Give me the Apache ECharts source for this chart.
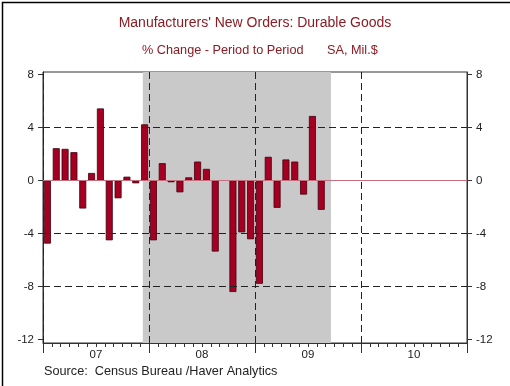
<!DOCTYPE html>
<html>
<head>
<meta charset="utf-8">
<script src="https://cdn.jsdelivr.net/npm/echarts@6/dist/echarts.min.js"></script>
<style>
html,body{margin:0;padding:0;background:#fff;}
#chart{width:510px;height:386px;}
</style>
</head>
<body>
<div id="chart"></div>
<script>
// Months Jan 2007 .. Aug 2009
const months = [
  'Jan 07','Feb 07','Mar 07','Apr 07','May 07','Jun 07','Jul 07','Aug 07','Sep 07','Oct 07','Nov 07','Dec 07',
  'Jan 08','Feb 08','Mar 08','Apr 08','May 08','Jun 08','Jul 08','Aug 08','Sep 08','Oct 08','Nov 08','Dec 08',
  'Jan 09','Feb 09','Mar 09','Apr 09','May 09','Jun 09','Jul 09','Aug 09'
];
const values = [
  -4.75, 2.45, 2.4, 2.15, -2.1, 0.58, 5.45, -4.5, -1.33, 0.3, -0.2, 4.25,
  -4.5, 1.32, -0.12, -0.88, 0.25, 1.44, 0.89, -5.35, null, -8.4, -3.9, -4.42,
  -7.78, 1.8, -2.05, 1.6, 1.44, -1.05, 4.88, -2.2
];
const yearLabels = ['07', '08', '09', '10'];
const yearMid = [6, 18, 30, 42];          // month index of label centre
const yearBoundaries = [0, 12, 24, 36];   // dashed vertical lines
const yearTicks = [0, 12, 24, 36, 48];
const yTicks = [-12, -8, -4, 0, 4, 8];
const dashedY = [4, -4, -8];
const zeroLine = [0];
const recession = [11.3, 32.6];           // shaded period, in months from Jan 07

const chart = echarts.init(document.getElementById('chart'), null, {renderer: 'canvas'});
const axisColor = '#333';
const font = 'Liberation Sans, Arial, sans-serif';
const barData = [];
values.forEach((v, i) => { if (v !== null) barData.push([i + 0.5, v]); });

const option = {
  animation: false,
  backgroundColor: '#fff',
  grid: {left: 43, right: 43, top: 72, bottom: 43, show: true, borderColor: axisColor, borderWidth: 1, backgroundColor: 'transparent'},
  graphic: [
    {type: 'rect', left: 0, top: 0, shape: {x: 0.75, y: 0.75, width: 508.5, height: 384.5}, style: {fill: 'none', stroke: '#000', lineWidth: 1.5}, z: 100},
    {type: 'text', x: 255, y: 23.5, style: {text: "Manufacturers' New Orders: Durable Goods", fill: '#8b1c24', font: '14px ' + font, textAlign: 'center', textVerticalAlign: 'middle'}},
    {type: 'text', x: 142, y: 50, style: {text: '% Change - Period to Period', fill: '#8b1c24', font: '12.7px ' + font, textAlign: 'left', textVerticalAlign: 'middle'}},
    {type: 'text', x: 327, y: 50, style: {text: 'SA, Mil.$', fill: '#8b1c24', font: '12.7px ' + font, textAlign: 'left', textVerticalAlign: 'middle'}},
    {type: 'text', x: 44, y: 371, style: {text: 'Source:  Census Bureau /Haver Analytics', fill: '#222', font: '12.7px ' + font, textAlign: 'left', textVerticalAlign: 'middle'}}
  ],
  xAxis: [
    {
      type: 'value', min: 0, max: 48, interval: 1, position: 'bottom',
      axisLine: {show: true, onZero: false, lineStyle: {color: axisColor, width: 1}},
      axisTick: {show: true, length: 4, lineStyle: {color: axisColor}},
      axisLabel: {show: false},
      splitLine: {show: false}
    },
    {
      type: 'value', min: 0, max: 48, interval: 12, position: 'bottom',
      axisLine: {show: false, onZero: false},
      axisTick: {show: true, length: 10, customValues: yearTicks, lineStyle: {color: axisColor}},
      axisLabel: {show: true, customValues: yearMid, margin: 6, color: '#222', fontSize: 11.5, fontFamily: font,
        formatter: v => yearLabels[yearMid.indexOf(v)]},
      splitLine: {show: false}
    }
  ],
  yAxis: [
    {
      type: 'value', min: -12.25, max: 8.2, position: 'left',
      axisLine: {show: true, onZero: false, lineStyle: {color: axisColor}},
      axisTick: {show: true, length: 5, customValues: yTicks, lineStyle: {color: axisColor}},
      axisLabel: {show: true, customValues: yTicks, margin: 9, color: '#222', fontSize: 11.5, fontFamily: font},
      splitLine: {show: false}
    },
    {
      type: 'value', min: -12.25, max: 8.2, position: 'right',
      axisLine: {show: true, onZero: false, lineStyle: {color: axisColor}},
      axisTick: {show: true, length: 5, customValues: yTicks, lineStyle: {color: axisColor}},
      axisLabel: {show: true, customValues: yTicks, margin: 9, color: '#222', fontSize: 11.5, fontFamily: font},
      splitLine: {show: false}
    }
  ],
  series: [
    {
      type: 'line', data: [], xAxisIndex: 0, yAxisIndex: 0, z: 1, silent: true,
      markArea: {silent: true, itemStyle: {color: '#c9c9c9'}, data: [[{xAxis: recession[0]}, {xAxis: recession[1]}]]}
    },
    {
      type: 'line', data: [], xAxisIndex: 0, yAxisIndex: 0, z: 2, silent: true,
      markLine: {
        silent: true, symbol: ['none', 'none'], label: {show: false},
        lineStyle: {type: [7, 4], color: '#222', width: 1},
        data: dashedY.map(v => ({yAxis: v})).concat(yearBoundaries.map(v => ({xAxis: v})))
      }
    },
    {
      type: 'line', data: [], xAxisIndex: 0, yAxisIndex: 0, z: 2, silent: true,
      markLine: {
        silent: true, symbol: ['none', 'none'], label: {show: false},
        lineStyle: {type: 'solid', color: '#c4707f', width: 1},
        data: zeroLine.map(v => ({yAxis: v}))
      }
    },
    {
      type: 'bar', data: barData, xAxisIndex: 0, yAxisIndex: 0, z: 3, barWidth: 7,
      itemStyle: {color: '#a50021', borderColor: '#3f0010', borderWidth: 0.8}
    }
  ]
};
chart.setOption(option);
</script>
</body>
</html>
